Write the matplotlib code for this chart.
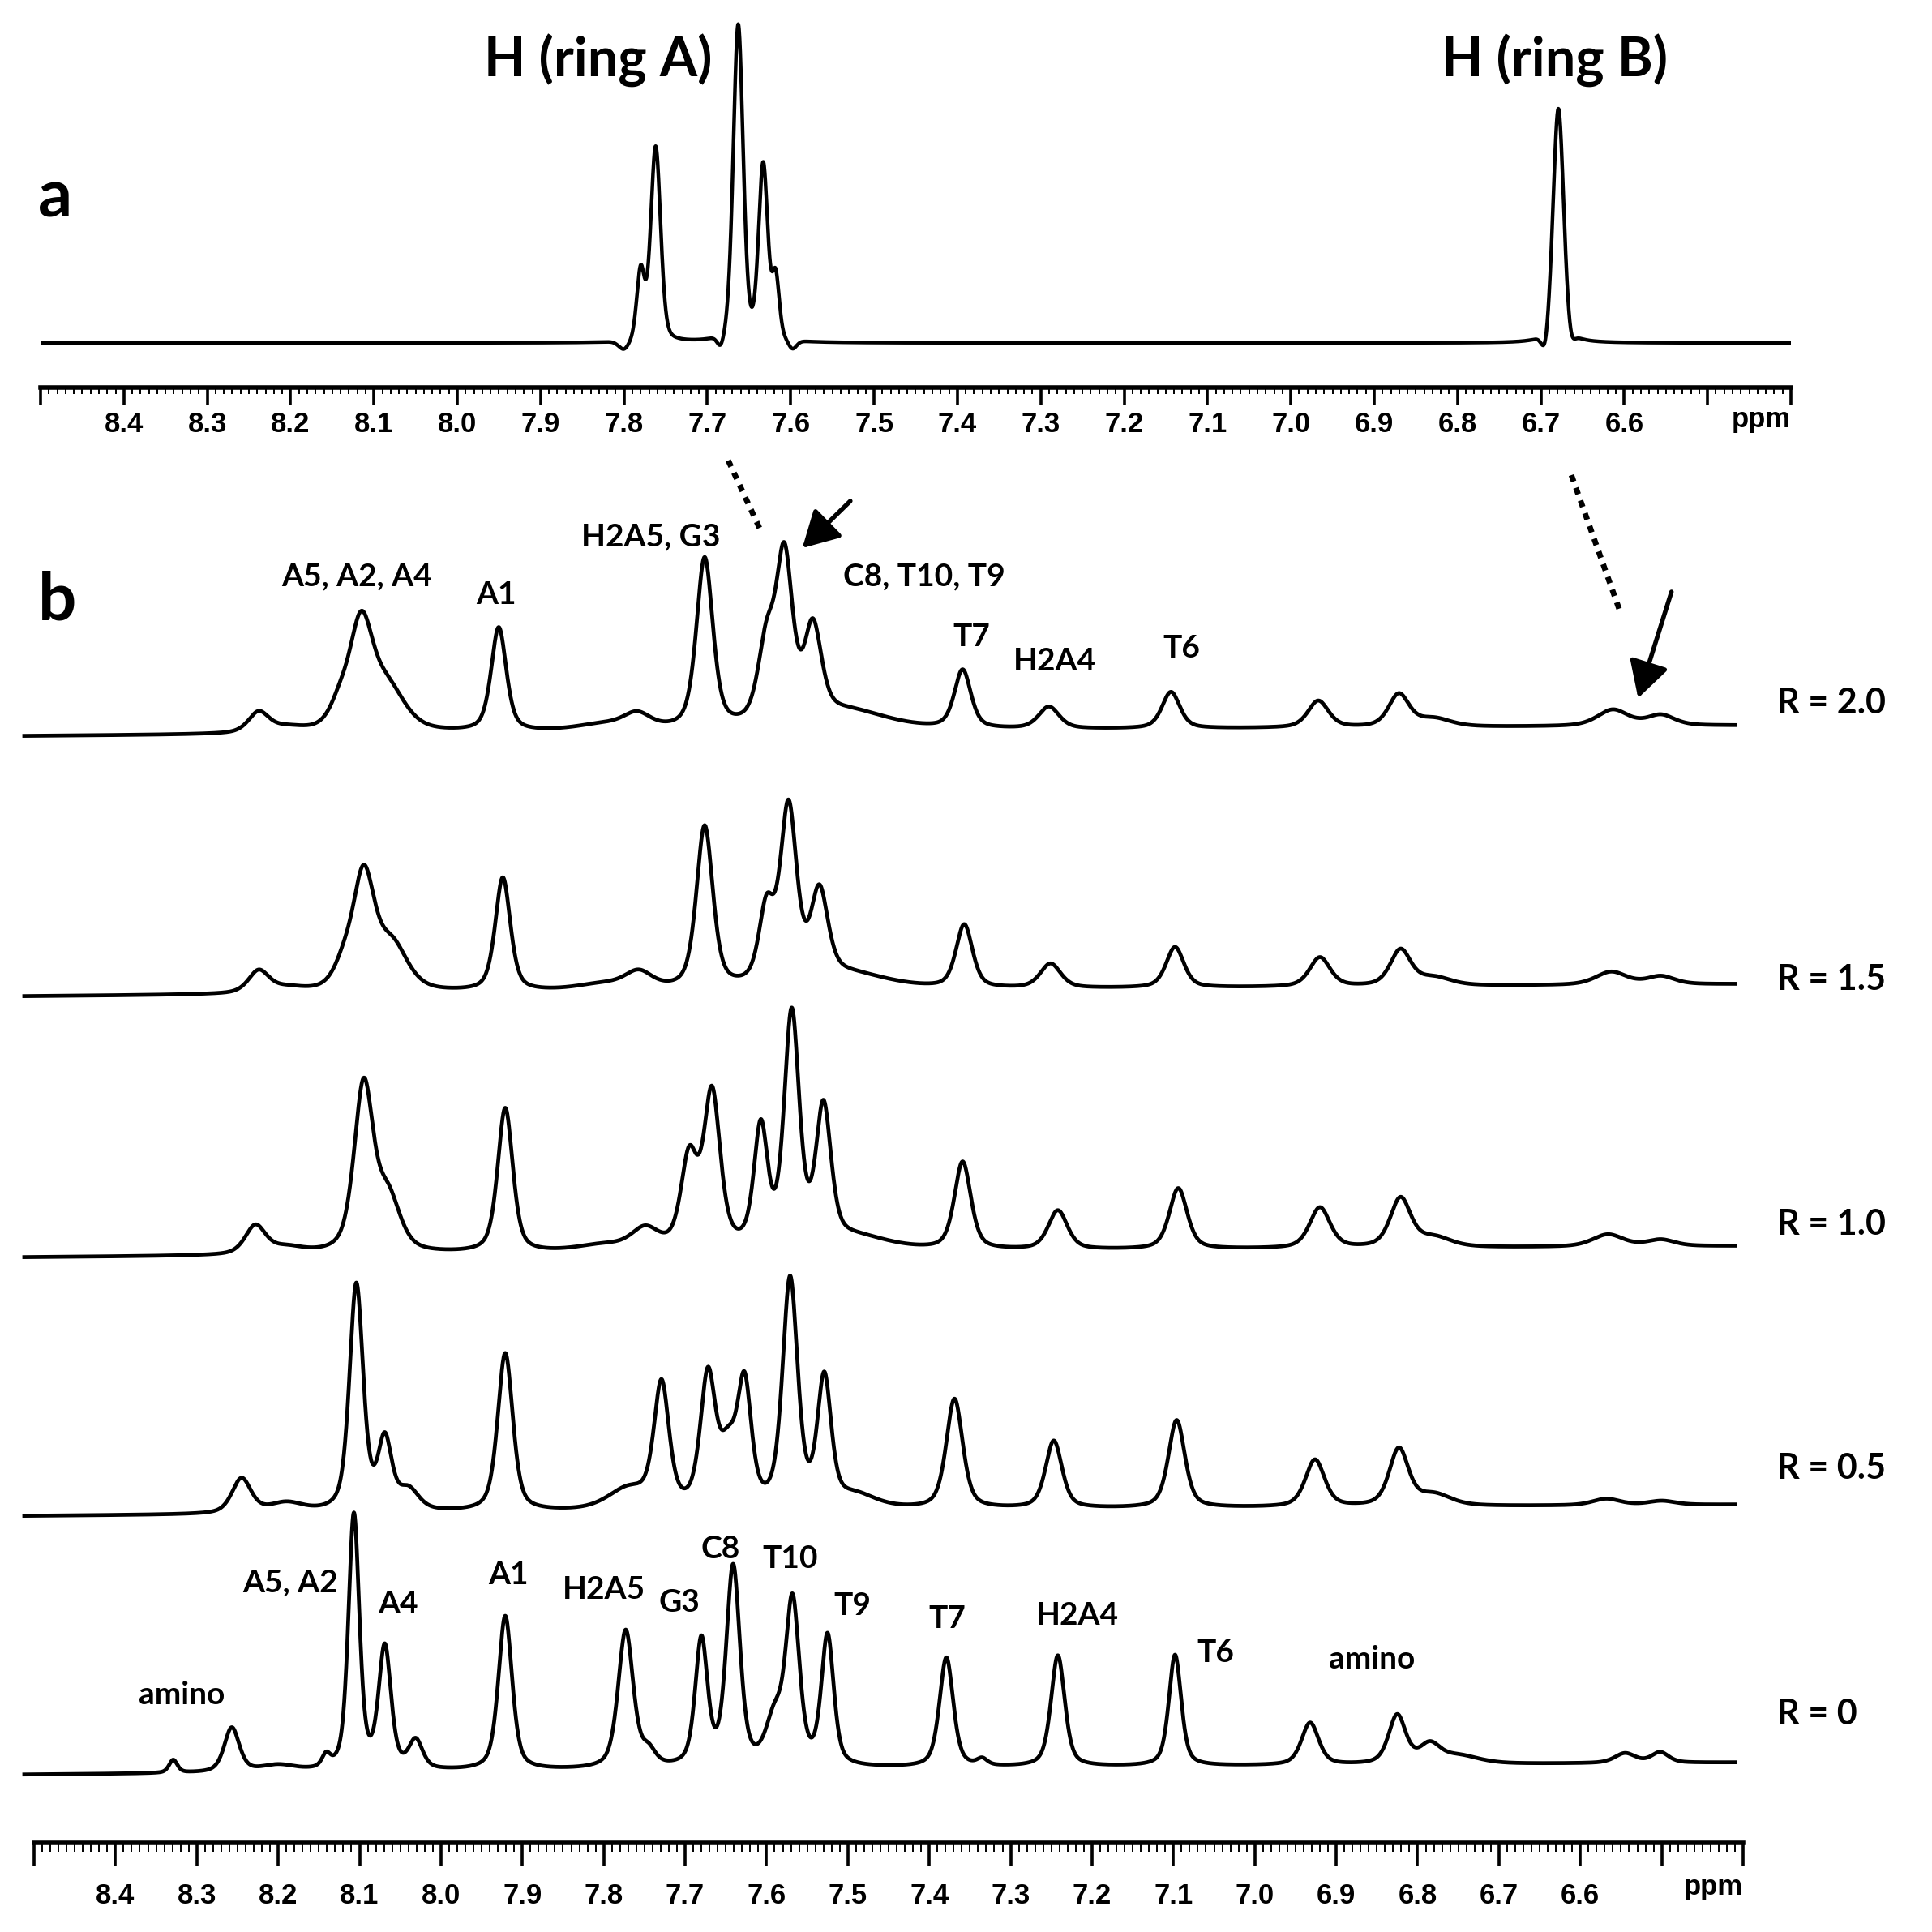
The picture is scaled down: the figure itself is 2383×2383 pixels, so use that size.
import numpy as np
import matplotlib.pyplot as plt
from matplotlib.ticker import MultipleLocator

W = 2383  # figure size in pixels (dpi 100)

# ---------------- data ----------------
# panel a: free ligand, peak centre (ppm), height (px), full width (ppm)
a_pos = [7.780, 7.762, 7.663, 7.633, 7.618, 6.679, 7.800, 7.684, 7.598, 6.695, 6.664]
a_hgt = [85, 240, 390, 215, 75, 290, -12, -16, -12, -22, -14]
a_wid = [0.011, 0.014, 0.014, 0.013, 0.010, 0.015, 0.015, 0.010, 0.012, 0.010, 0.010]

# panel b: DNA titration, one peak list per ratio R
r20_pos = [8.224, 8.19, 8.125, 8.098, 8.065, 7.929, 7.80, 7.759, 7.676, 7.600, 7.578, 7.543, 7.50,
           7.359, 7.253, 7.103, 6.922, 6.823, 6.78, 6.560, 6.501]
r20_hgt = [25, 6, 25, 130, 50, 128, 8, 18, 210, 95, 200, 110, 22, 72, 27, 45, 33, 40, 10, 20, 13]
r20_wid = [0.03, 0.05, 0.03, 0.035, 0.05, 0.022, 0.08, 0.04, 0.024, 0.025, 0.024, 0.025, 0.12,
           0.024, 0.03, 0.026, 0.03, 0.03, 0.05, 0.045, 0.04]

r15_pos = [8.224, 8.19, 8.12, 8.095, 8.06, 7.924, 7.80, 7.757, 7.676, 7.600, 7.573, 7.535, 7.50,
           7.357, 7.251, 7.098, 6.920, 6.821, 6.78, 6.562, 6.501]
r15_hgt = [27, 6, 25, 140, 55, 140, 8, 20, 200, 90, 215, 105, 18, 78, 30, 50, 36, 44, 10, 16, 10]
r15_wid = [0.03, 0.05, 0.03, 0.032, 0.045, 0.022, 0.08, 0.04, 0.024, 0.022, 0.024, 0.025, 0.12,
           0.024, 0.03, 0.026, 0.03, 0.03, 0.05, 0.045, 0.04]

r10_pos = [8.228, 8.19, 8.095, 8.065, 7.921, 7.80, 7.749, 7.695, 7.667, 7.607, 7.569, 7.530, 7.49,
           7.359, 7.242, 7.094, 6.920, 6.821, 6.78, 6.566, 6.501]
r10_hgt = [35, 8, 205, 65, 178, 8, 25, 110, 190, 145, 285, 165, 15, 108, 48, 75, 50, 60, 12, 15, 8]
r10_wid = [0.03, 0.05, 0.028, 0.035, 0.022, 0.08, 0.04, 0.024, 0.024, 0.02, 0.022, 0.022, 0.1,
           0.024, 0.028, 0.026, 0.03, 0.03, 0.05, 0.045, 0.04]

r05_pos = [8.245, 8.19, 8.104, 8.069, 8.04, 7.921, 7.77, 7.729, 7.672, 7.647, 7.627, 7.571, 7.529,
           7.49, 7.369, 7.247, 7.096, 6.926, 6.823, 6.78, 6.568, 6.50]
r05_hgt = [43, 12, 280, 85, 25, 195, 25, 150, 160, 65, 145, 280, 155, 15, 135, 83, 108, 58, 70,
           14, 8, 5]
r05_wid = [0.028, 0.05, 0.02, 0.02, 0.03, 0.022, 0.06, 0.022, 0.022, 0.025, 0.02, 0.022, 0.02,
           0.06, 0.024, 0.024, 0.024, 0.028, 0.028, 0.05, 0.04, 0.04]

r00_pos = [8.329, 8.257, 8.20, 8.141, 8.107, 8.069, 8.031, 7.921, 7.773, 7.745, 7.680, 7.641,
           7.590, 7.568, 7.525, 7.379, 7.335, 7.242, 7.098, 6.932, 6.825, 6.785, 6.75, 6.545, 6.502]
r00_hgt = [16, 55, 8, 15, 315, 150, 35, 190, 170, 18, 155, 245, 55, 200, 160, 135, 8, 137, 137,
           52, 60, 22, 10, 12, 13]
r00_wid = [0.012, 0.022, 0.05, 0.012, 0.016, 0.018, 0.02, 0.02, 0.022, 0.02, 0.018, 0.02, 0.025,
           0.02, 0.018, 0.02, 0.015, 0.02, 0.018, 0.025, 0.025, 0.03, 0.06, 0.03, 0.025]

ratios = ['R = 2.0', 'R = 1.5', 'R = 1.0', 'R = 0.5', 'R = 0']
traces = [(r20_pos, r20_hgt, r20_wid), (r15_pos, r15_hgt, r15_wid), (r10_pos, r10_hgt, r10_wid),
          (r05_pos, r05_hgt, r05_wid), (r00_pos, r00_hgt, r00_wid)]

tick_vals = [8.5, 8.4, 8.3, 8.2, 8.1, 8.0, 7.9, 7.8, 7.7, 7.6, 7.5, 7.4, 7.3, 7.2, 7.1,
             7.0, 6.9, 6.8, 6.7, 6.6, 6.5, 6.4]
tick_txt = ['', '8.4', '8.3', '8.2', '8.1', '8.0', '7.9', '7.8', '7.7', '7.6', '7.5', '7.4',
            '7.3', '7.2', '7.1', '7.0', '6.9', '6.8', '6.7', '6.6', '', '']

# peak assignments: (text, ppm, pixel row)
top_labels = [('A5, A2, A4', 8.103, 711), ('A1', 7.932, 733), ('H2A5, G3', 7.742, 662),
              ('C8, T10, T9', 7.406, 711), ('T7', 7.348, 785), ('H2A4', 7.246, 815),
              ('T6', 7.090, 799)]
bot_labels = [('amino', 8.319, 2091), ('A5, A2', 8.185, 1952), ('A4', 8.053, 1978),
              ('A1', 7.917, 1943), ('H2A5', 7.800, 1961), ('G3', 7.707, 1977),
              ('C8', 7.657, 1911), ('T10', 7.571, 1922), ('T9', 7.494, 1980),
              ('T7', 7.378, 1997), ('H2A4', 7.218, 1993), ('T6', 7.048, 2039),
              ('amino', 6.856, 2047)]


def shape(x, pos, hgt, wid, eta=0.5):
    y = np.zeros_like(x)
    for p, h, w in zip(pos, hgt, wid):
        d = (x - p) / (w / 2)
        y += h * (eta / (1 + d ** 2) + (1 - eta) * np.exp(-np.log(2) * d ** 2))
    return y


def setup_axis(ax, major_len, pad):
    for s in ['top', 'left', 'right']:
        ax.spines[s].set_visible(False)
    ax.spines['bottom'].set_linewidth(4)
    ax.set_yticks([])
    ax.set_xticks(tick_vals)
    ax.set_xticklabels(tick_txt, fontfamily='Liberation Sans', fontweight='bold', fontsize=25)
    ax.xaxis.set_minor_locator(MultipleLocator(0.01))
    ax.tick_params(axis='x', which='major', length=major_len, width=2.6, pad=pad)
    ax.tick_params(axis='x', which='minor', length=major_len * 0.4, width=1.4)
    ax.patch.set_visible(False)


fig = plt.figure(figsize=(W / 100, W / 100), dpi=100)
fig.patch.set_facecolor('white')

# ---------------- panel a ----------------
ax_a = fig.add_axes([50 / W, 1 - 478 / W, (2209 - 50) / W, 478 / W])
xa = np.linspace(8.5, 6.4, 6000)
ax_a.plot(xa, shape(xa, a_pos, a_hgt, a_wid, eta=0.3), color='black', lw=3.2)
ax_a.set_xlim(8.5, 6.4)
ax_a.set_ylim(-55, 478 - 55)
setup_axis(ax_a, 15, 6)
fig.text(2209 / W, 1 - 517 / W, 'ppm', ha='right', va='center',
         fontfamily='Liberation Sans', fontweight='bold', fontsize=25)

# ---------------- panel b ----------------
ax_b = fig.add_axes([42 / W, 1 - 2273 / W, (2150 - 42) / W, (2273 - 560) / W])
xb = np.linspace(8.512, 6.41, 6000)
base_left = [908, 1229, 1551, 1870, 2189]   # pixel rows of each baseline
base_right = [895, 1214, 1537, 1856, 2174]
label_rows = [867, 1208, 1510, 1811, 2114]
for (pos, hgt, wid), bl, br in zip(traces, base_left, base_right):
    base = (2273 - bl) + ((2273 - br) - (2273 - bl)) * (8.512 - xb) / (8.512 - 6.41)
    ax_b.plot(xb, base + shape(xb, pos, hgt, wid), color='black', lw=3.4, clip_on=False)
ax_b.set_xlim(8.5, 6.4)
ax_b.set_ylim(0, 2273 - 560)
setup_axis(ax_b, 20, 15)
fig.text(2150 / W, 1 - 2327 / W, 'ppm', ha='right', va='center',
         fontfamily='Liberation Sans', fontweight='bold', fontsize=25)

lab = dict(fontfamily='Lato', fontweight='bold', color='black')
for name, row in zip(ratios, label_rows):
    fig.text(2192 / W, 1 - row / W, name, ha='left', va='center', fontsize=31, **lab)
for t, x, row in top_labels + bot_labels:
    ax_b.text(x, 2273 - row, t, ha='center', va='center', fontsize=28, clip_on=False, **lab)

fig.text(47 / W, 1 - 267 / W, 'a', ha='left', va='baseline', fontsize=60, **lab)
fig.text(47 / W, 1 - 765 / W, 'b', ha='left', va='baseline', fontsize=60, **lab)
fig.text(738 / W, 1 - 95 / W, 'H (ring A)', ha='center', va='baseline', fontsize=48, **lab)
fig.text(1918 / W, 1 - 95 / W, 'H (ring B)', ha='center', va='baseline', fontsize=48, **lab)

# dotted guides and arrows (ppm, height above the lower axis)
ax_b.plot([7.647, 7.606], [1705, 1616], color='black', lw=5, ls=(0, (1.2, 1.2)), clip_on=False)
ax_b.plot([6.611, 6.552], [1687, 1521], color='black', lw=5, ls=(0, (1.2, 1.2)), clip_on=False)
arrow = dict(arrowstyle='-|>,head_length=0.9,head_width=0.5', lw=4, color='black',
             mutation_scale=30, shrinkA=0, shrinkB=0)
ax_b.annotate('', xy=(7.556, 1597), xytext=(7.497, 1655), arrowprops=arrow, annotation_clip=False)
ax_b.annotate('', xy=(6.529, 1412), xytext=(6.488, 1543), arrowprops=arrow, annotation_clip=False)

fig.savefig('out.png', dpi=100, facecolor='white')
